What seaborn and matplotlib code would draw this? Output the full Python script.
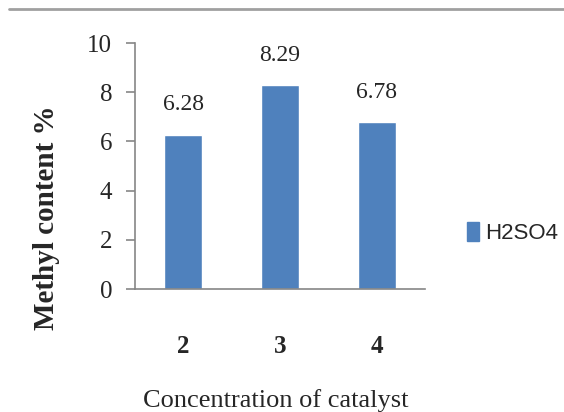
import matplotlib
matplotlib.use("Agg")
import matplotlib.pyplot as plt
from matplotlib.lines import Line2D
from matplotlib.patches import Patch
import seaborn as sns
import pandas as pd

# Methyl content measured at each catalyst concentration
concentrations = ["2", "3", "4"]
methyl_content = [6.28, 8.29, 6.78]
value_labels = ["6.28", "8.29", "6.78"]
series_name = "H2SO4"

df = pd.DataFrame({"concentration": concentrations, "methyl": methyl_content})

sns.set_theme(style="white")
plt.rcParams["font.family"] = ["Liberation Serif", "DejaVu Serif"]

bar_color = "#4F81BD"
fig = plt.figure(figsize=(5.64, 4.12), dpi=100)
ax = fig.add_axes([135 / 564, 1 - 289 / 412, 290 / 564, 246 / 412])

sns.barplot(data=df, x="concentration", y="methyl", color=bar_color,
            width=0.39, saturation=1, ax=ax)

ax.set_ylim(0, 10)
ax.set_yticks([0, 2, 4, 6, 8, 10])
ax.set_xlim(-0.5, 2.5)

for spine in ["top", "right"]:
    ax.spines[spine].set_visible(False)
for spine in ["left", "bottom"]:
    ax.spines[spine].set_color("#868686")
    ax.spines[spine].set_linewidth(1.2)

ax.tick_params(axis="y", which="major", left=True, length=6.5, width=1.2,
               color="#868686", pad=10, labelsize=18)
ax.tick_params(axis="x", which="major", bottom=False, pad=27, labelsize=18)
for lbl in ax.get_xticklabels():
    lbl.set_fontweight("bold")

# value labels above each bar
for i, (v, txt) in enumerate(zip(methyl_content, value_labels)):
    ax.annotate(txt, xy=(i, v), xytext=(0, 14), textcoords="offset points",
                ha="center", va="bottom", fontsize=17)

ax.set_ylabel("Methyl content %", fontsize=21, fontweight="bold")
ax.yaxis.set_label_coords(-0.26, 0.29)
ax.set_xlabel("Concentration of catalyst", fontsize=19, va="center")
ax.xaxis.set_label_coords(0.485, -0.452)

handles = [Patch(facecolor=bar_color, edgecolor=bar_color)]
fig.legend(handles, [series_name], loc="center left",
           bbox_to_anchor=(447 / 564, 1 - 233 / 412), frameon=False,
           handlelength=0.55, handleheight=0.9, handletextpad=0.25,
           prop={"family": ["Liberation Sans", "DejaVu Sans"], "size": 16})

# thin rule across the top of the figure
fig.add_artist(Line2D([9 / 564, 1.0], [1 - 9 / 412, 1 - 9 / 412],
                      transform=fig.transFigure, color="#A0A0A0", linewidth=2))

fig.savefig("out.png", dpi=100)
